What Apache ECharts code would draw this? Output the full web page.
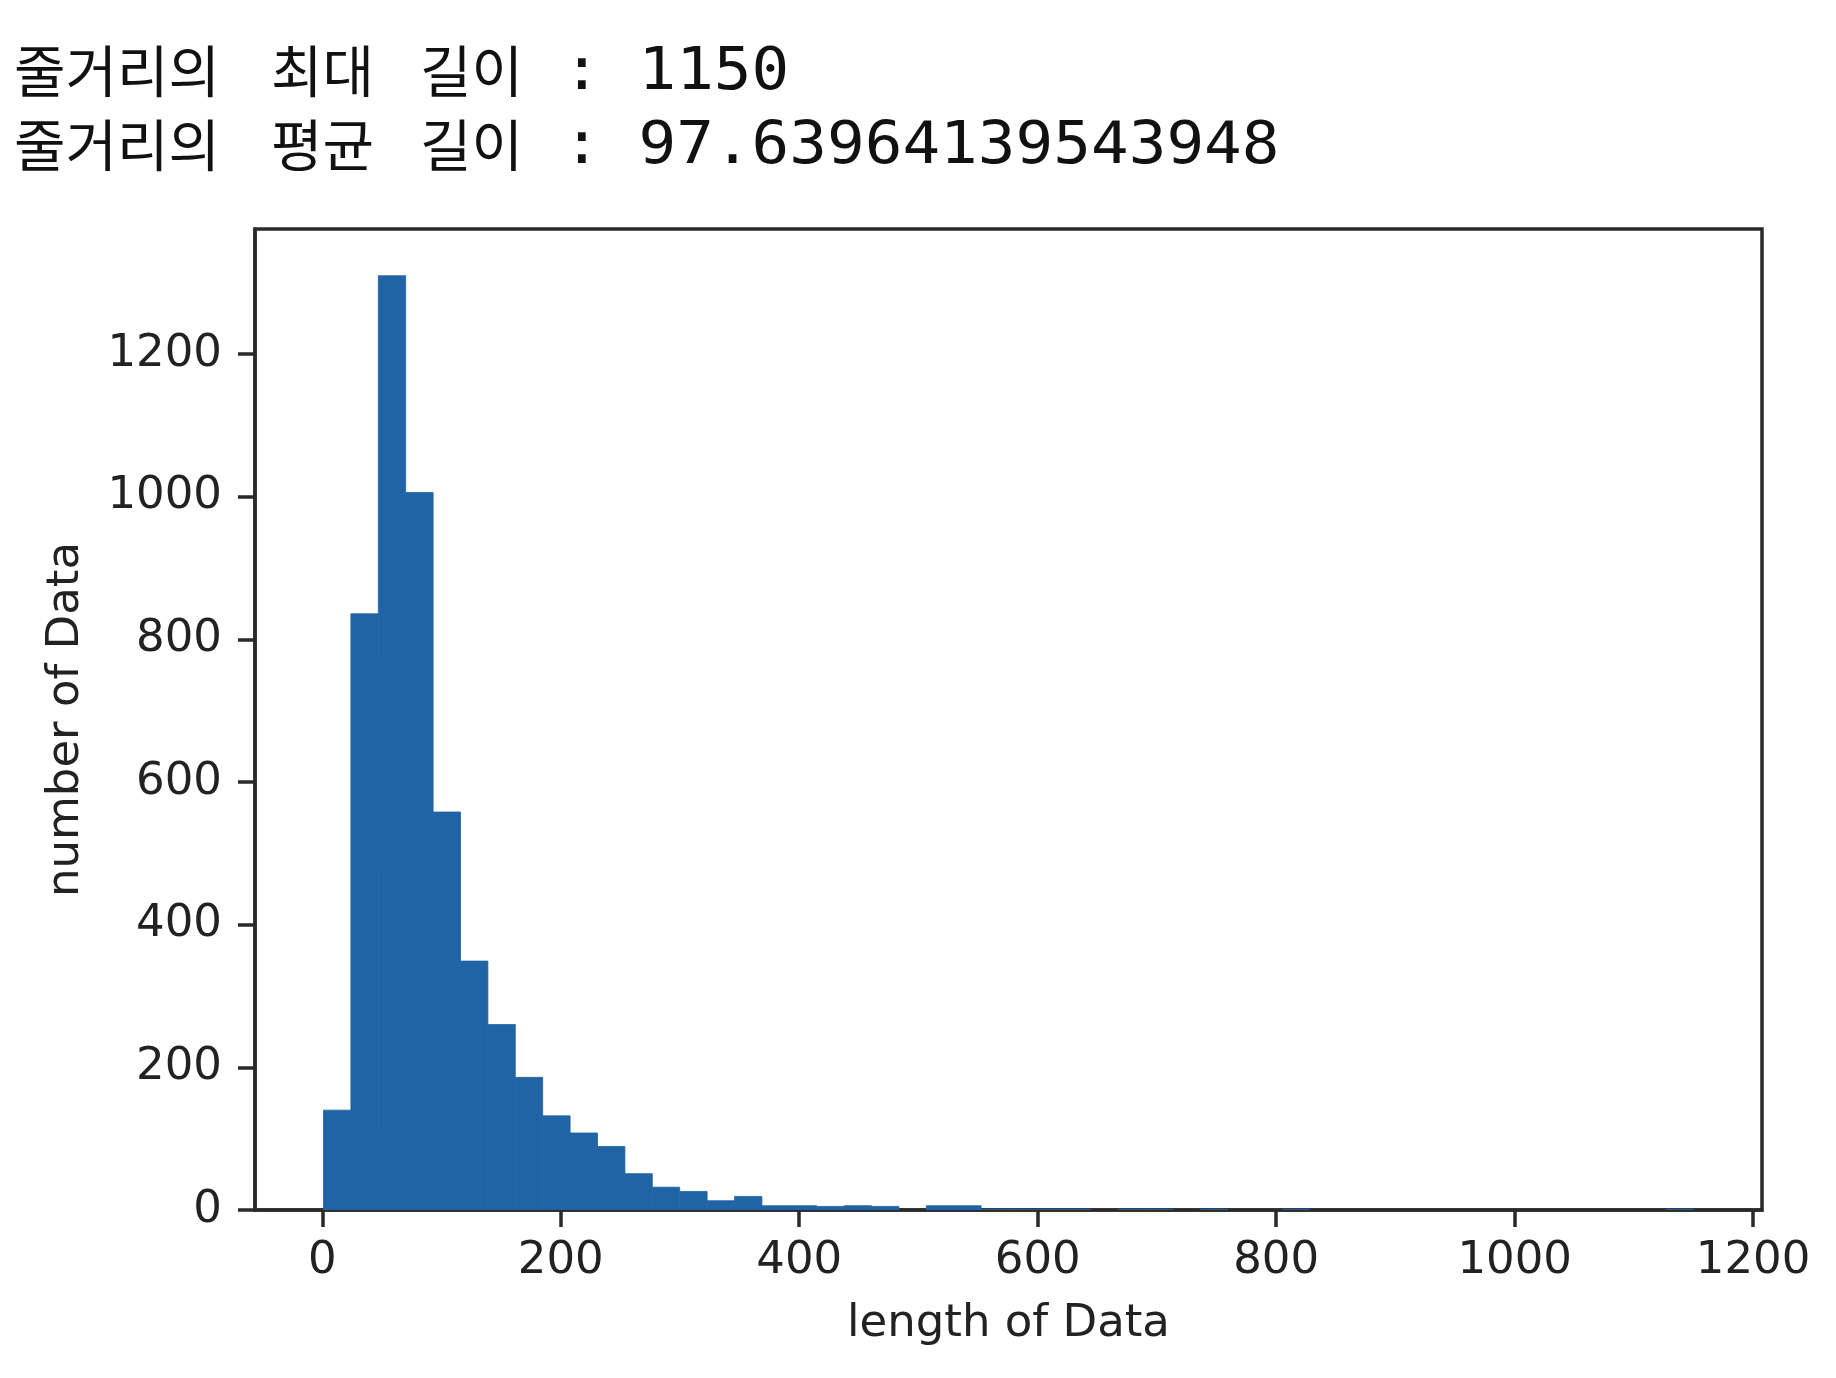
<!DOCTYPE html>
<html>
<head>
<meta charset="utf-8">
<script src="https://cdn.jsdelivr.net/npm/echarts@6/dist/echarts.min.js"></script>
<style>
  html, body { margin: 0; padding: 0; background: #fff; }
  #chart { width: 1836px; height: 1378px; }
</style>
</head>
<body>
<div id="chart"></div>
<script>
// ---- data ----
const headerLabels = ["줄거리의 최대 길이", "줄거리의 평균 길이"];
const headerValues = ["1150", "97.63964139543948"];
const lengthMin = 1;
const lengthMax = 1150;
const binCount = 50;
// histogram counts per bin
const counts = [
  140, 836, 1310, 1006, 558, 349, 260, 186, 132, 108,
  89, 51, 32, 26, 13, 19, 6, 6, 5, 6,
  5, 0, 6, 6, 1, 1, 1, 1, 0, 1,
  1, 0, 1, 0, 0, 1, 0, 0, 0, 0,
  0, 0, 0, 0, 0, 0, 0, 0, 0, 1
];
const xTicks = [0, 200, 400, 600, 800, 1000, 1200];
const yTicks = [0, 200, 400, 600, 800, 1000, 1200];
const xLabel = "length of Data";
const yLabel = "number of Data";

// ---- build histogram items ----
const binWidth = (lengthMax - lengthMin) / binCount;
const histData = counts.map((c, i) => [lengthMin + i * binWidth, lengthMin + (i + 1) * binWidth, c]);
const maxCount = Math.max(...counts);
const xPad = (lengthMax - lengthMin) * 0.05;

const chart = echarts.init(document.getElementById('chart'), null, { renderer: 'canvas' });

const textColor = '#222';
const axisColor = '#2a2a2a';
const tickFont = 'DejaVu Sans';
const barColor = '#2064a6';

function headerGraphics() {
  const els = [];
  const rows = [74, 148];
  const wordX = [14, 271, 420];
  headerLabels.forEach((lab, r) => {
    const words = lab.split(' ');
    words.forEach((w, k) => {
      els.push({
        type: 'text', left: wordX[k], top: rows[r] - 31,
        style: { text: w, font: '400 56px "Noto Sans CJK KR"', fill: '#111' }
      });
    });
    els.push({
      type: 'text', x: 563, y: rows[r], scaleX: 1.08,
      style: { text: ': ' + headerValues[r], font: '400 58px "DejaVu Sans Mono"', fill: '#111', verticalAlign: 'middle', align: 'left' }
    });
  });
  return els;
}

chart.setOption({
  animation: false,
  backgroundColor: '#fff',
  grid: {
    left: 255, top: 229, width: 1507, height: 981,
    show: true, borderColor: axisColor, borderWidth: 3.5, backgroundColor: 'transparent'
  },
  graphic: headerGraphics(),
  xAxis: {
    type: 'value',
    min: lengthMin - xPad,
    max: lengthMax + xPad,
    name: xLabel,
    nameLocation: 'middle',
    nameGap: 92,
    nameTextStyle: { fontFamily: tickFont, fontSize: 45, color: textColor },
    splitLine: { show: false },
    axisLine: { show: true, onZero: false, lineStyle: { color: axisColor, width: 3.5 } },
    axisTick: { show: true, length: 17, lineStyle: { color: axisColor, width: 3.5 }, customValues: xTicks },
    axisLabel: {
      show: true, margin: 29, fontFamily: tickFont, fontSize: 45, color: textColor,
      customValues: xTicks, formatter: v => String(v)
    }
  },
  yAxis: {
    type: 'value',
    min: 0,
    max: maxCount * 1.05,
    name: yLabel,
    nameLocation: 'middle',
    nameGap: 166,
    nameRotate: 90,
    nameTextStyle: { fontFamily: tickFont, fontSize: 45, color: textColor },
    splitLine: { show: false },
    axisLine: { show: true, onZero: false, lineStyle: { color: axisColor, width: 3.5 } },
    axisTick: { show: true, length: 17, lineStyle: { color: axisColor, width: 3.5 }, customValues: yTicks },
    axisLabel: {
      show: true, margin: 33, fontFamily: tickFont, fontSize: 45, color: textColor,
      customValues: yTicks, formatter: v => String(v)
    }
  },
  series: [{
    type: 'custom',
    data: histData,
    encode: { x: [0, 1], y: 2 },
    clip: true,
    z: 1,
    renderItem: function (params, api) {
      if (!api.value(2)) return null;
      const p0 = api.coord([api.value(0), api.value(2)]);
      const p1 = api.coord([api.value(1), 0]);
      return {
        type: 'rect',
        shape: { x: p0[0], y: p0[1], width: p1[0] - p0[0], height: p1[1] - p0[1] },
        style: { fill: barColor, stroke: barColor, lineWidth: 0.8 }
      };
    }
  }]
});
</script>
</body>
</html>
